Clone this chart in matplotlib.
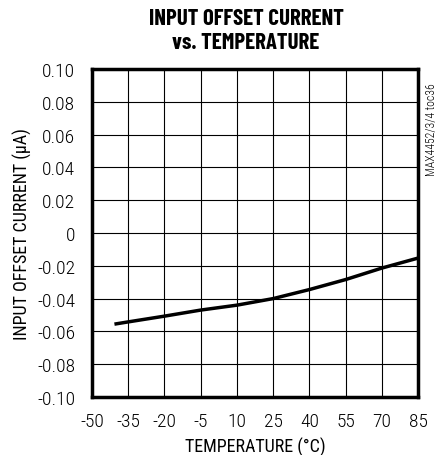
import numpy as np
import matplotlib.pyplot as plt

# temperature (degC) and input offset current (uA)
temp = [-40, -35, -20, -5, 10, 25, 40, 55, 70, 85]
ios = [-0.0554, -0.0542, -0.0507, -0.047, -0.044, -0.040, -0.0345, -0.0284, -0.0214, -0.0153]

xticks = [-50, -35, -20, -5, 10, 25, 40, 55, 70, 85]
yticks = [0.10, 0.08, 0.06, 0.04, 0.02, 0, -0.02, -0.04, -0.06, -0.08, -0.10]
ylabels = ["0.10", "0.08", "0.06", "0.04", "0.02", "0", "-0.02", "-0.04", "-0.06", "-0.08", "-0.10"]

plt.rcParams['font.family'] = ['Roboto Condensed', 'DejaVu Sans']
plt.rcParams['font.weight'] = 300
plt.rcParams['axes.unicode_minus'] = False

fig = plt.figure(figsize=(4.41, 4.56), dpi=100)
ax = fig.add_axes([92 / 441, 58 / 456, 326 / 441, 328 / 456])

ax.plot(temp, ios, color='black', linewidth=2.5)

ax.set_xlim(-50, 85)
ax.set_ylim(-0.10, 0.10)
ax.set_xticks(xticks)
ax.set_xticklabels([str(t) for t in xticks])
ax.set_yticks(yticks)
ax.set_yticklabels(ylabels)
ax.tick_params(axis='x', length=0, labelsize=14, pad=11)
ax.tick_params(axis='y', length=0, labelsize=14, pad=12)
ax.grid(True, color='black', linewidth=0.8)
for s in ax.spines.values():
    s.set_linewidth(2.5)

ax.set_xlabel("TEMPERATURE (°C)", fontsize=13, labelpad=5)
ax.set_ylabel("INPUT OFFSET CURRENT (μA)", fontsize=13, labelpad=4)
fig.text(246 / 441, 1 - 31 / 456, "INPUT OFFSET CURRENT\nvs. TEMPERATURE", fontsize=16.5,
         family=['Barlow Condensed', 'DejaVu Sans'], fontweight='bold',
         ha='center', va='center', linespacing=1.3)

fig.text(432 / 441, 1 - 130 / 456, "MAX4452/3/4 toc36", rotation=90, fontsize=8.5,
         ha='center', va='center')

fig.savefig("out.png", dpi=100)
